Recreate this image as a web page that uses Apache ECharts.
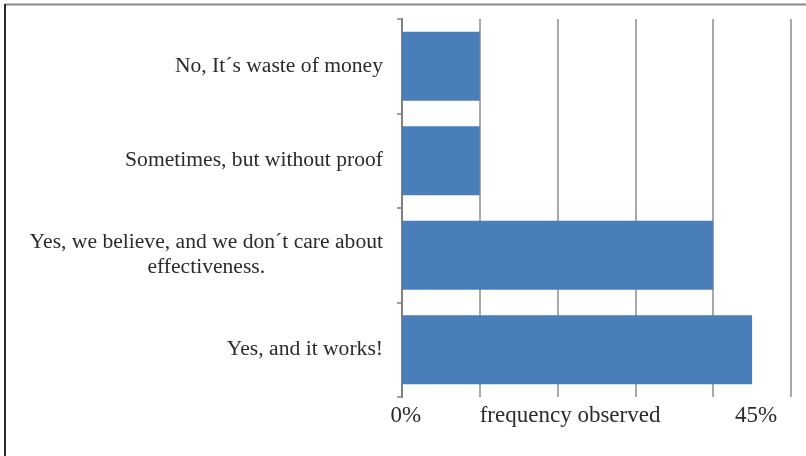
<!DOCTYPE html>
<html>
<head>
<meta charset="utf-8">
<script src="https://cdn.jsdelivr.net/npm/echarts@6/dist/echarts.min.js"></script>
<style>
html,body{margin:0;padding:0;background:#fff;}
#chart{width:806px;height:456px;}
</style>
</head>
<body>
<div id="chart"></div>
<script>
var categories = [
  'No, It´s waste of money',
  'Sometimes, but without proof',
  'Yes, we believe, and we don´t care about\neffectiveness.',
  'Yes, and it works!'
];
var values = [10, 10, 40, 45];
var xTickValues = [0.5, 21.6, 45.5];
var xTickLabels = ['0%', 'frequency observed', '45%'];

var FONT = 'Liberation Serif';
var chart = echarts.init(document.getElementById('chart'));
chart.setOption({
  animation: false,
  backgroundColor: '#ffffff',
  textStyle: { fontFamily: FONT },
  graphic: [
    { type: 'line', shape: { x1: 5, y1: 4.5, x2: 806, y2: 4.5 }, style: { stroke: '#8a8a8a', lineWidth: 2 } },
    { type: 'line', shape: { x1: 5, y1: 4, x2: 5, y2: 456 }, style: { stroke: '#2a2a2a', lineWidth: 2 } }
  ],
  grid: { left: 402, top: 19, width: 389, height: 378, containLabel: false },
  xAxis: {
    type: 'value',
    min: 0,
    max: 50,
    interval: 10,
    axisLine: { show: false },
    axisTick: { show: false },
    splitLine: { show: true, lineStyle: { color: '#8c8c8c', width: 1.5 } },
    axisLabel: {
      customValues: xTickValues,
      margin: 7,
      fontFamily: FONT,
      fontSize: 23,
      color: '#2b2b2b',
      formatter: function (v) {
        var i = xTickValues.indexOf(v);
        return i >= 0 ? xTickLabels[i] : '';
      }
    }
  },
  yAxis: {
    type: 'category',
    inverse: true,
    data: categories,
    axisLine: { show: true, lineStyle: { color: '#808080', width: 2 } },
    axisTick: { show: true, length: 5, lineStyle: { color: '#808080', width: 1.5 } },
    axisLabel: {
      margin: 19,
      fontFamily: FONT,
      fontSize: 21.6,
      color: '#2b2b2b',
      lineHeight: 25,
      formatter: function (v) {
        return v.split('\n').map(function (s) { return '{c|' + s + '}'; }).join('\n');
      },
      rich: { c: { align: 'center', fontFamily: FONT, fontSize: 21.6, color: '#2b2b2b', lineHeight: 25 } }
    }
  },
  series: [{
    type: 'bar',
    data: values,
    barCategoryGap: '27%',
    itemStyle: { color: '#4a7ebb' }
  }]
});
</script>
</body>
</html>
